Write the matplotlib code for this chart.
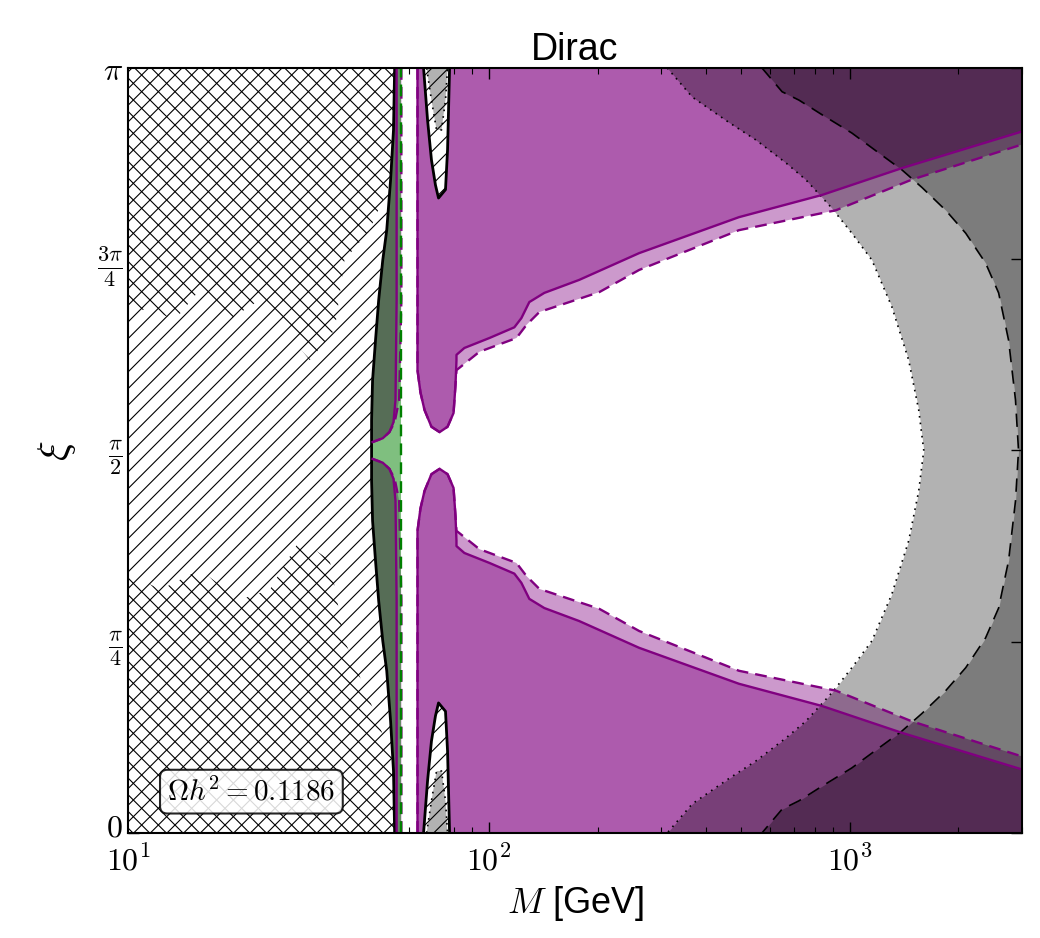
import numpy as np
import matplotlib.pyplot as plt
import matplotlib.transforms as mtransforms
from matplotlib.ticker import FuncFormatter

plt.rcParams['mathtext.fontset'] = 'cm'
plt.rcParams['font.family'] = ['Liberation Sans', 'DejaVu Sans']
plt.rcParams['hatch.linewidth'] = 0.8

PURPLE = '#800080'
GREEN = '#008000'

# masses in GeV, mixing angle xi in units of pi.
# only the upper half is listed, the plot is mirror symmetric about xi = pi/2
M_MAX = 3000.0

# black solid boundary of the hatched region
zinv_M = [54.8, 54.4, 53.4, 52.1, 50.8, 49.5, 48.5, 47.6, 47.3, 47.3]
zinv_xi = [1.0, 0.919, 0.854, 0.788, 0.749, 0.697, 0.644, 0.592, 0.540, 0.5]

# green dashed line
green_M = 56.9

# crosshatched (second hatch) patches
xh_up_M = [10, 54.8, 53.7, 46.7, 39.8, 37.4, 31.9, 27.2, 23.2, 19.1, 15.8, 13.5, 11.5, 10]
xh_up_xi = [1.0, 1.0, 0.854, 0.788, 0.749, 0.658, 0.618, 0.658, 0.697, 0.671, 0.710, 0.671,
            0.684, 0.684]
xh_lo_M = [10, 54.8, 54.1, 46.7, 39.8, 36.2, 29.9, 24.7, 20.4, 15.8, 12.3, 10]
xh_lo_xi = [0.0, 0.0, 0.095, 0.174, 0.252, 0.357, 0.383, 0.318, 0.305, 0.344, 0.318, 0.340]

# purple contours, left part (C shaped curves near the Z pole)
cl_solid_M = [55.5, 55.5, 55.1, 54.4, 53.0, 50.8, 47.6]
cl_dash_M = [57.2, 57.2, 56.4, 54.8, 53.0, 50.8, 47.6]
cl_xi = [1.0, 0.697, 0.566, 0.537, 0.524, 0.516, 0.511]

# purple contours, right part
lobe_M = [63.4, 63.4, 64.6, 66.3, 69.3, 73.0, 76.8, 79.8, 80.8, 81.3]
lobe_xi = [1.0, 0.605, 0.576, 0.553, 0.531, 0.524, 0.531, 0.549, 0.586, 0.618]
solid_M = [81.3, 85.5, 100.3, 117.6, 123.0, 129.4, 142.4, 177.9, 260.8, 493, 837, 1392, 3000]
solid_xi = [0.625, 0.634, 0.647, 0.661, 0.673, 0.694, 0.706, 0.723, 0.758, 0.805, 0.834, 0.869, 0.917]
dash_M = [81.3, 94.1, 119.2, 127.0, 138.0, 202.2, 260.8, 493, 915, 1484, 3000]
dash_xi = [0.605, 0.629, 0.647, 0.664, 0.681, 0.707, 0.736, 0.788, 0.814, 0.854, 0.900]

# hatched spike near the Higgs pole and the grey dotted patch inside it
spike_M = [65.9, 67.6, 69.3, 71.1, 72.5, 75.8, 76.8, 77.8]
spike_xi = [1.0, 0.932, 0.880, 0.847, 0.830, 0.841, 0.893, 1.0]
spike_dd_M = [67.2, 69.3, 71.6, 73.9, 75.8, 76.8]
spike_dd_xi = [1.0, 0.958, 0.919, 0.919, 0.958, 1.0]

# grey direct detection contours (dotted and dashed)
dd_dot_M = [312, 366, 462, 549, 665, 755, 891, 1013, 1151, 1307, 1456, 1552, 1603]
dd_dot_xi = [1.0, 0.962, 0.929, 0.906, 0.876, 0.854, 0.817, 0.784, 0.749, 0.688, 0.618, 0.553, 0.5]
dd_dash_M = [571, 649, 723, 837, 1013, 1203, 1393, 1583, 1844, 2095, 2378, 2584, 2754, 2878, 2934]
dd_dash_xi = [1.0, 0.969, 0.958, 0.939, 0.915, 0.889, 0.867, 0.844, 0.814, 0.784, 0.745, 0.706,
              0.644, 0.566, 0.5]


def rad(xi):
    return np.pi * np.asarray(xi, dtype=float)


def lower(xi):
    return [1.0 - v for v in xi]


def upper(xi):
    return list(xi)


def whole(M, xi):
    # curve from xi=pi through pi/2 down to 0
    return list(M) + list(M[-2::-1]), list(xi) + lower(xi[-2::-1])


fig = plt.figure(figsize=(10.4, 9.38), dpi=100)
ax = fig.add_axes([0.1231, 0.1120, 0.8596, 0.8155])
ax.set_xscale('log')

# purple regions (two overlapping contours)
for half in (upper, lower):
    for cM in (cl_solid_M, cl_dash_M):
        ax.fill([10, 10] + cM[::-1], rad(half([1.0, cl_xi[-1]] + cl_xi[::-1])),
                color=PURPLE, alpha=0.4, lw=0, zorder=1)
    ax.fill(lobe_M + solid_M + [M_MAX], rad(half(lobe_xi + solid_xi + [1.0])),
            color=PURPLE, alpha=0.4, lw=0, zorder=1)
    ax.fill(lobe_M[:-1] + dash_M + [M_MAX], rad(half(lobe_xi[:-1] + dash_xi + [1.0])),
            color=PURPLE, alpha=0.4, lw=0, zorder=1)

# hatched region
zM, zxi = whole(zinv_M, zinv_xi)
ax.fill([10, 10] + zM, rad([0.0, 1.0] + zxi), facecolor='white', edgecolor='black',
        hatch='//', lw=0, zorder=2)
ax.fill(xh_up_M, rad(xh_up_xi), facecolor='none', edgecolor='black', hatch='\\\\', lw=0, zorder=2.1)
ax.fill(xh_lo_M, rad(xh_lo_xi), facecolor='none', edgecolor='black', hatch='\\\\', lw=0, zorder=2.1)

# green band
ax.fill_betweenx(rad(zxi), zM, green_M, color=GREEN, alpha=0.5, lw=0, zorder=3)

# spikes
for half in (upper, lower):
    ax.fill(spike_M, rad(half(spike_xi)), facecolor='white', edgecolor='black',
            hatch='//', lw=0, zorder=2)
    ax.plot(spike_M, rad(half(spike_xi)), color='black', lw=2, zorder=5)
    ax.fill(spike_dd_M, rad(half(spike_dd_xi)), color='black', alpha=0.3, lw=0, zorder=3)
    ax.plot(spike_dd_M, rad(half(spike_dd_xi)), color='black', lw=1.2, ls=(0, (1, 3)), zorder=5)

# grey direct detection regions
for cM, cxi, ls in ((dd_dot_M, dd_dot_xi, (0, (1, 3))), (dd_dash_M, dd_dash_xi, (0, (8, 5)))):
    fM, fxi = whole(cM, cxi)
    ax.fill_betweenx(rad(fxi), fM, M_MAX, color='black', alpha=0.3, lw=0, zorder=3)
    ax.plot(fM, rad(fxi), color='black', lw=1.2, ls=ls, zorder=5)

# lines
ax.plot(zM, rad(zxi), color='black', lw=2, zorder=5)
for half in (upper, lower):
    ax.plot(cl_solid_M, rad(half(cl_xi)), color=PURPLE, lw=1.7, zorder=5)
    ax.plot(cl_dash_M, rad(half(cl_xi)), color=PURPLE, lw=1.7, ls=(0, (5, 3)), zorder=5)
    ax.plot(lobe_M + solid_M, rad(half(lobe_xi + solid_xi)), color=PURPLE, lw=1.7, zorder=5)
    ax.plot(lobe_M[:-1] + dash_M, rad(half(lobe_xi[:-1] + dash_xi)), color=PURPLE, lw=1.7,
            ls=(0, (5, 3)), zorder=5)
ax.axvline(green_M, color=GREEN, lw=1.7, ls=(0, (5, 3)), zorder=5.5)

ax.set_xlim(10, M_MAX)
ax.set_ylim(0, np.pi)
ax.xaxis.set_major_formatter(FuncFormatter(lambda v, p: r'$10^{%d}$' % round(np.log10(v))))
ax.set_yticks(rad([0, 0.25, 0.5, 0.75, 1.0]))
ax.set_yticklabels([r'$0$', r'$\frac{\pi}{4}$', r'$\frac{\pi}{2}$', r'$\frac{3\pi}{4}$', r'$\pi$'])
ax.tick_params(which='both', direction='in', top=True, right=True, labelsize=23)
ax.tick_params(which='major', length=8, width=1)
ax.tick_params(which='minor', length=4, width=0.8)
ax.tick_params(axis='x', pad=9)
for s in ax.spines.values():
    s.set_linewidth(1.5)
    s.set_zorder(6)

# lift the "0" label a little so it clears the 10^1 label below it
zero_lbl = ax.get_yticklabels()[0]
zero_lbl.set_transform(zero_lbl.get_transform()
                       + mtransforms.ScaledTranslation(0, 6 / 72, fig.dpi_scale_trans))

ax.set_title('Dirac', fontsize=27, pad=4)
ax.set_xlabel(r'$M$ [GeV]', fontsize=26, labelpad=5)
ax.set_ylabel(r'$\xi$', fontsize=30, labelpad=14)

ax.text(0.138, 0.054, r'$\Omega h^2 = 0.1186$', transform=ax.transAxes, fontsize=21,
        ha='center', va='center', zorder=7,
        bbox=dict(boxstyle='round,pad=0.25', fc='white', ec='black', lw=1.5, alpha=0.85))

fig.savefig('out.png', dpi=100)
